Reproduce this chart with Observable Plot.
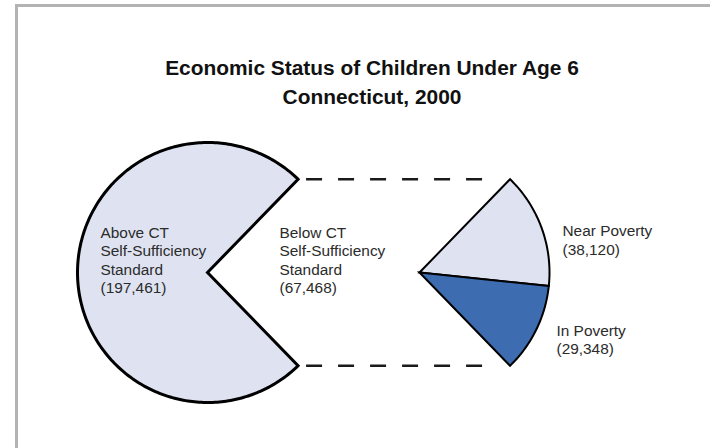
<!DOCTYPE html>
<html>
<head>
<meta charset="utf-8">
<script src="https://cdn.jsdelivr.net/npm/d3@7"></script>
<script src="https://cdn.jsdelivr.net/npm/@observablehq/plot@0.6"></script>
<style>
  html, body { margin: 0; padding: 0; width: 710px; height: 448px; overflow: hidden; background: #fff; }
  #frameTop { position: absolute; left: 15px; top: 4px; width: 695px; height: 3px; background: #b3b3b3; }
  #frameLeft { position: absolute; left: 15px; top: 4px; width: 3px; height: 444px; background: #b3b3b3; }
  #title { position: absolute; left: 0; top: 52.5px; width: 710px; box-sizing: border-box; padding-left: 34px;
           text-align: center; font-family: "Liberation Sans", Arial, sans-serif; font-weight: bold;
           font-size: 20.9px; line-height: 29px; color: #111; }
  #chart { position: absolute; left: 0; top: 110px; width: 710px; height: 338px; overflow: hidden; }
</style>
</head>
<body>
<div id="frameTop"></div>
<div id="frameLeft"></div>
<div id="title">Economic Status of Children Under Age 6<br>Connecticut, 2000</div>
<div id="chart"></div>
<script>
// ---- data ----
const categories = ["Above CT Self-Sufficiency Standard", "Below CT Self-Sufficiency Standard"];
const values = [197461, 67468];
const subCategories = ["Near Poverty", "In Poverty"];
const subValues = [38120, 29348];
const categoryLabels = ["Above CT\nSelf-Sufficiency\nStandard\n(197,461)", "Below CT\nSelf-Sufficiency\nStandard\n(67,468)"];
const subLabels = ["Near Poverty\n(38,120)", "In Poverty\n(29,348)"];

// ---- layout (page pixels) ----
const svgTop = 110, W = 710, H = 448;
const big = {cx: 207, cy: 272, r: 130};
const small = {cx: 419, cy: 272, r: 130};
const fills = {main: "#dfe3f1", near: "#dfe3f1", poverty: "#3d6db0"};

const total = d3.sum(values);
const gap = 360 * values[1] / total;           // angle taken by the split-out slice
const rad = a => a * Math.PI / 180;

function slice(name, c, a0, a1) {
  const pts = [{name, x: c.cx, y: c.cy}];
  const n = Math.max(2, Math.ceil(Math.abs(a1 - a0)));
  for (let i = 0; i <= n; i++) {
    const a = a0 + (a1 - a0) * i / n;
    pts.push({name, x: c.cx + c.r * Math.cos(rad(a)), y: c.cy - c.r * Math.sin(rad(a))});
  }
  pts.push({name, x: c.cx, y: c.cy});
  pts.push(pts[1]);
  return pts;
}

const mainSlice = slice(categories[0], big, gap / 2, 360 - gap / 2);
const nearAngle = 360 * subValues[0] / total;
const nearSlice = slice(subCategories[0], small, gap / 2, gap / 2 - nearAngle);
const povSlice = slice(subCategories[1], small, gap / 2 - nearAngle, -gap / 2);

const yTopConn = big.cy - big.r * Math.sin(rad(gap / 2));
const yBotConn = big.cy + big.r * Math.sin(rad(gap / 2));
const xBigConn = big.cx + big.r * Math.cos(rad(gap / 2));
const xSmallConn = small.cx + small.r * Math.cos(rad(gap / 2));
const connectors = [
  {x1: xBigConn, y1: yTopConn, x2: xSmallConn - 24, y2: yTopConn},
  {x1: xBigConn, y1: yBotConn, x2: xSmallConn - 24, y2: yBotConn}
];

const fs = 15.4;
const labels = [
  {text: categoryLabels[0], x: big.cx - 107, y: 235 - 0.71 * fs},
  {text: categoryLabels[1], x: small.cx - 140, y: 235 - 0.71 * fs},
  {text: subLabels[0], x: small.cx + 143, y: 233.5 - 0.71 * fs},
  {text: subLabels[1], x: small.cx + 137, y: 333 - 0.71 * fs}
];

const lineOpts = (fill, sw) => ({x: "x", y: "y", fill, stroke: "#000", strokeWidth: sw,
  strokeLinejoin: "miter", strokeMiterlimit: 10, curve: "linear"});

const chart = Plot.plot({
  width: W, height: H - svgTop, margin: 0,
  x: {domain: [0, W], range: [0, W], axis: null},
  y: {domain: [svgTop, H], range: [0, H - svgTop], axis: null},
  style: {fontFamily: "'Liberation Sans', Arial, sans-serif", background: "transparent", overflow: "visible"},
  marks: [
    Plot.line(mainSlice, lineOpts(fills.main, 3)),
    Plot.line(nearSlice, lineOpts(fills.near, 2)),
    Plot.line(povSlice, lineOpts(fills.poverty, 2)),
    Plot.link(connectors, {x1: "x1", y1: "y1", x2: "x2", y2: "y2", stroke: "#1a1a1a",
      strokeWidth: 2.5, strokeDasharray: "16,16", strokeDashoffset: 24}),
    Plot.text(labels, {x: "x", y: "y", text: "text", textAnchor: "start", lineAnchor: "top",
      lineHeight: 1.2, fontSize: fs, fill: "#2b2b2b"})
  ]
});
document.getElementById("chart").appendChild(chart);
</script>
</body>
</html>
